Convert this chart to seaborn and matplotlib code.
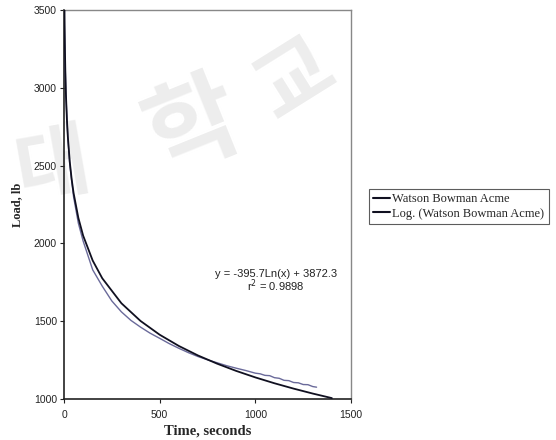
import matplotlib
matplotlib.use("Agg")
import matplotlib.pyplot as plt
import seaborn as sns
import pandas as pd

# Measured data: Watson Bowman Acme
time_s = [0, 2, 5, 10, 20, 30, 50, 75, 100, 150, 200, 250, 300, 350, 400, 450,
          500, 550, 600, 650, 700, 750, 800, 850, 900, 950, 1000, 1025, 1050,
          1075, 1100, 1125, 1150, 1175, 1200, 1225, 1250, 1275, 1300, 1320]
load_lb = [3500, 3380, 3200, 2950, 2680, 2510, 2300, 2130, 2015, 1830, 1725,
           1630, 1560, 1505, 1462, 1423, 1390, 1356, 1326, 1298, 1273, 1252,
           1233, 1214, 1198, 1183, 1166, 1162, 1152, 1150, 1137, 1133, 1120,
           1118, 1106, 1104, 1093, 1092, 1080, 1076]

# Logarithmic trendline values
fit_time = [2.56, 3, 5, 7, 10, 15, 20, 30, 40, 50, 75, 100, 150, 200, 300, 400,
            500, 600, 700, 800, 900, 1000, 1100, 1200, 1300, 1400]
fit_load = [3500, 3437.6, 3235.4, 3102.3, 2961.2, 2800.7, 2686.9, 2526.4,
            2412.6, 2324.3, 2163.9, 2050.0, 1889.6, 1775.8, 1615.3, 1501.5,
            1413.1, 1341.0, 1279.9, 1227.2, 1180.5, 1138.8, 1101.1, 1066.7,
            1035.0, 1005.7]

series_names = ["Watson Bowman Acme", "Log. (Watson Bowman Acme)"]
x_ticks = [0, 500, 1000, 1500]
y_ticks = [1000, 1500, 2000, 2500, 3000, 3500]
equation = "y = -395.7Ln(x) + 3872.3"
r_squared = "r$^2$ = 0.9898"

sns.set_style("white")
plt.rcParams["font.family"] = ["Liberation Sans", "DejaVu Sans"]

fig = plt.figure(figsize=(5.56, 4.40), dpi=100)

# faint watermark behind the chart
wm_kw = dict(fontfamily=["Noto Sans CJK KR"], color="#ededed", zorder=-5,
             ha="center", va="center", fontweight="bold")
fig.text(0.095, 0.62, "대", fontsize=58, rotation=10, **wm_kw)
fig.text(0.35, 0.71, "학", fontsize=72, rotation=22, **wm_kw)
fig.text(0.53, 0.82, "교", fontsize=60, rotation=32, **wm_kw)

ax = fig.add_axes([64 / 556, 41 / 440, 287 / 556, 389 / 440])
ax.patch.set_alpha(0)

df_data = pd.DataFrame({"t": time_s, "load": load_lb})
df_fit = pd.DataFrame({"t": fit_time, "load": fit_load})

sns.lineplot(data=df_data, x="t", y="load", ax=ax, color="#6a6a9a",
             linewidth=1.0, label=series_names[0], sort=False, zorder=3)
sns.lineplot(data=df_fit, x="t", y="load", ax=ax, color="#101020",
             linewidth=1.3, label=series_names[1], sort=False, zorder=4)

ax.set_xlim(0, 1500)
ax.set_ylim(1000, 3500)
ax.set_xticks(x_ticks)
ax.set_yticks(y_ticks)
ax.tick_params(axis="both", which="both", direction="out", length=3,
               width=0.8, labelsize=7.5, pad=2, colors="#222222",
               bottom=True, left=True)
ax.tick_params(axis="x", pad=5)

for side in ["left", "bottom"]:
    ax.spines[side].set_color("#222222")
    ax.spines[side].set_linewidth(1.2)
for side in ["top", "right"]:
    ax.spines[side].set_color("#888888")
    ax.spines[side].set_linewidth(1.0)

ax.set_xlabel("Time, seconds", fontfamily=["Liberation Serif"],
              fontweight="bold", fontsize=10.5, labelpad=3)
ax.set_ylabel("Load, lb", fontfamily=["Liberation Serif"],
              fontweight="bold", fontsize=9, labelpad=8)

ax.text(0.739, 0.321, equation, transform=ax.transAxes, fontsize=8,
        ha="center", va="center", color="#222222")
ax.text(0.739, 0.290, r_squared, transform=ax.transAxes, fontsize=8,
        ha="center", va="center", color="#222222")

leg = ax.legend(loc="upper left", bbox_to_anchor=(1.063, 0.54),
                borderaxespad=0, frameon=True, fancybox=False, borderpad=0.35,
                handlelength=1.3, handletextpad=0.2, labelspacing=0.2,
                prop={"family": "Liberation Serif", "size": 9})
leg.get_frame().set_edgecolor("#333333")
leg.get_frame().set_linewidth(0.8)
for line in leg.get_lines():
    line.set_color("#101020")
    line.set_linewidth(1.5)

fig.savefig("out.png", dpi=100)
